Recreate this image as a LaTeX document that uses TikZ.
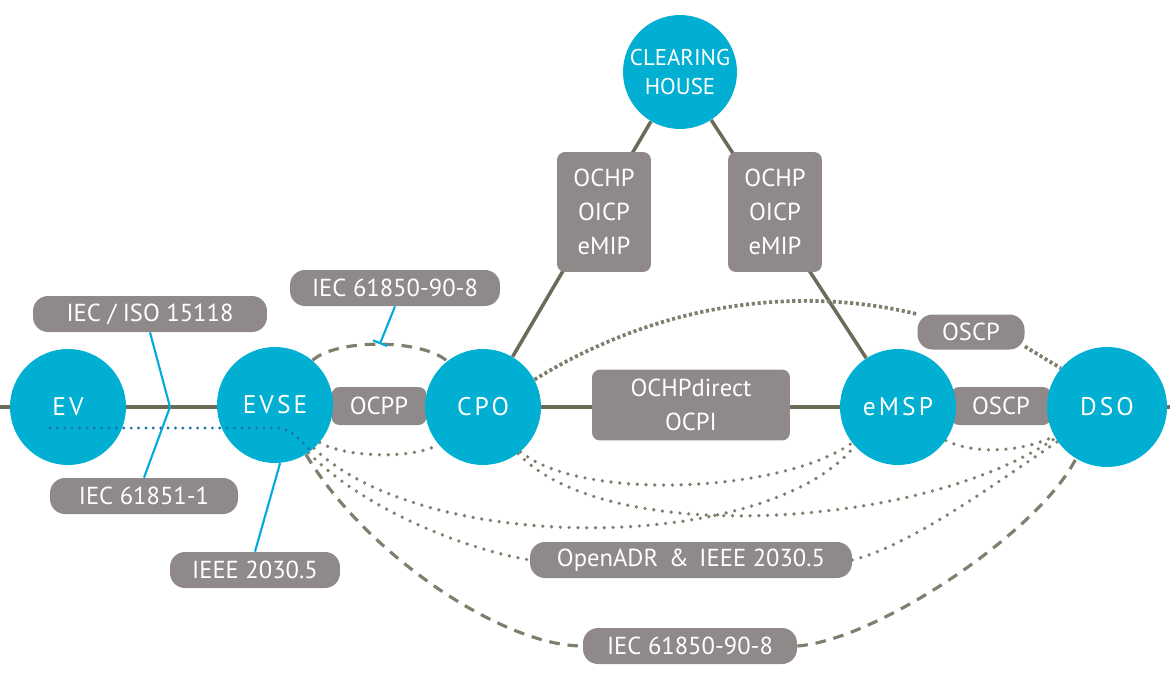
\documentclass[tikz,border=0pt]{standalone}
\usepackage{fontspec}
\setmainfont{PT Sans}
\usetikzlibrary{shapes,arrows,positioning,backgrounds}
\definecolor{evblue}{RGB}{0,175,209}
\definecolor{boxgray}{RGB}{143,137,137}
\definecolor{linegray}{RGB}{107,107,88}
\definecolor{dotgray}{RGB}{128,126,108}
\definecolor{wireblue}{RGB}{0,170,220}
\definecolor{plugblue}{RGB}{30,115,165}

\begin{document}
\begin{tikzpicture}[x=0.02cm, y=-0.02cm,
actor/.style={circle, fill=evblue, text=white, minimum size=2.32cm, inner sep=0pt,
  font=\fontsize{14.5}{17}\selectfont\addfontfeatures{LetterSpace=12}},
proto/.style={fill=boxgray, text=white, rounded corners=0.16cm, inner sep=0pt,
  align=center, font=\fontsize{14}{19.5}\selectfont},
tag/.style={proto, rounded corners=0.3cm, minimum height=0.72cm},
link/.style={linegray, line width=2pt},
dots/.style={dotgray, line width=2.1pt, line cap=round, dash pattern=on 0pt off 5pt},
densedots/.style={dotgray, line width=2.1pt, dash pattern=on 1.8pt off 1.5pt},
dashes/.style={dotgray, line width=1.8pt, dash pattern=on 6pt off 4.5pt},
plugdots/.style={plugblue, line width=1.8pt, line cap=round, dash pattern=on 0pt off 4.2pt},
wire/.style={wireblue, line width=1.2pt}]

\useasboundingbox (0,0) rectangle (1170,673);

\node [proto, minimum width=1.9cm, minimum height=0.76cm] (ocpp) at (379,406) {OCPP};
\node [proto, minimum width=3.96cm, minimum height=1.42cm] (direct) at (691,405) {OCHPdirect\\OCPI};
\node [proto, minimum width=2cm, minimum height=0.76cm] (oscp) at (1001,406) {OSCP};
\node [tag, minimum width=2.14cm, minimum height=0.7cm] (oscptop) at (971,332) {OSCP};
\node [proto, minimum width=1.88cm, minimum height=2.4cm] (roamleft) at (604,212) {OCHP\\OICP\\eMIP};
\node [proto, minimum width=1.88cm, minimum height=2.4cm] (roamright) at (775,212) {OCHP\\OICP\\eMIP};
\node [tag, minimum width=4.68cm] (iso) at (150,314) {IEC / ISO 15118};
\node [tag, minimum width=3.76cm] (iecplug) at (144,496) {IEC 61851-1};
\node [tag, minimum width=3.4cm] (ieee) at (255,570) {IEEE 2030.5};
\node [tag, minimum width=4.2cm] (iectop) at (395,288) {IEC 61850-90-8};
\node [tag, minimum width=6.44cm] (openadr) at (691,560) {OpenADR\,~\&~\,IEEE 2030.5};
\node [tag, minimum width=4.28cm] (iecbottom) at (690,646) {IEC 61850-90-8};

\node [actor] (ev) at (68,407) {EV};
\node [actor] (evse) at (275,405) {EVSE};
\node [actor] (cpo) at (483,407) {CPO};
\node [actor] (emsp) at (898,407) {eMSP};
\node [actor, minimum size=2.4cm] (dso) at (1107,407) {DSO};
\node [actor, align=center, minimum size=2.28cm, font=\fontsize{13}{16.5}\selectfont] (house) at (680,72) {CLEARING\\HOUSE};

\coordinate (west) at (0,407);
\coordinate (east) at (1170,407);
\coordinate (apex) at (170,407);
\coordinate (plug) at (50,428);

\begin{scope}[on background layer]
\draw [link] (west) -- (east);
\draw [link] (house) -- (cpo);
\draw [link] (house) -- (emsp);
\draw [densedots] (cpo.28) .. controls +(147,-90) and +(-93,-23) .. (oscptop.north west);
\draw [densedots] (oscptop.-15) -- (dso.140);
\draw [dots] (evse.-40) .. controls +(25,15) and +(-25,15) .. (cpo.-140);
\draw [dots] (evse.-48) .. controls +(113,108) and +(-87,107) .. (emsp.-138);
\draw [dots] (evse.-55) .. controls +(60,60) and +(-60,-10) .. (openadr.west);
\draw [dots] (openadr.east) .. controls +(60,-15) and +(-60,40) .. (dso.-145);
\draw [dots] (cpo.-50) .. controls +(60,50) and +(-70,50) .. (emsp.-142);
\draw [dots] (cpo.-53) .. controls +(90,95) and +(-130,90) .. (dso.-149);
\draw [dots] (emsp.-35) .. controls +(30,15) and +(-30,15) .. (dso.-151);
\draw [dashes] (evse.50) .. controls +(25,-22) and +(-25,-22) .. (cpo.128) coordinate [pos=0.5] (tick);
\draw [dashes] (evse.-58) .. controls +(60,100) and +(-80,0) .. (iecbottom.west);
\draw [dashes] (iecbottom.east) .. controls +(80,-6) and +(-37,73) .. (dso.-121);
\end{scope}

\draw [wire] (iso.south) -- (apex) -- (iecplug.north);
\draw [wire] (ieee.north) -- (evse.-85);
\draw [wire, -|] (iectop.south) -- (tick);
\draw [plugdots] (plug) -- (plug -| evse) to [out=0, in=135] (evse.-52);

\end{tikzpicture}
\end{document}
